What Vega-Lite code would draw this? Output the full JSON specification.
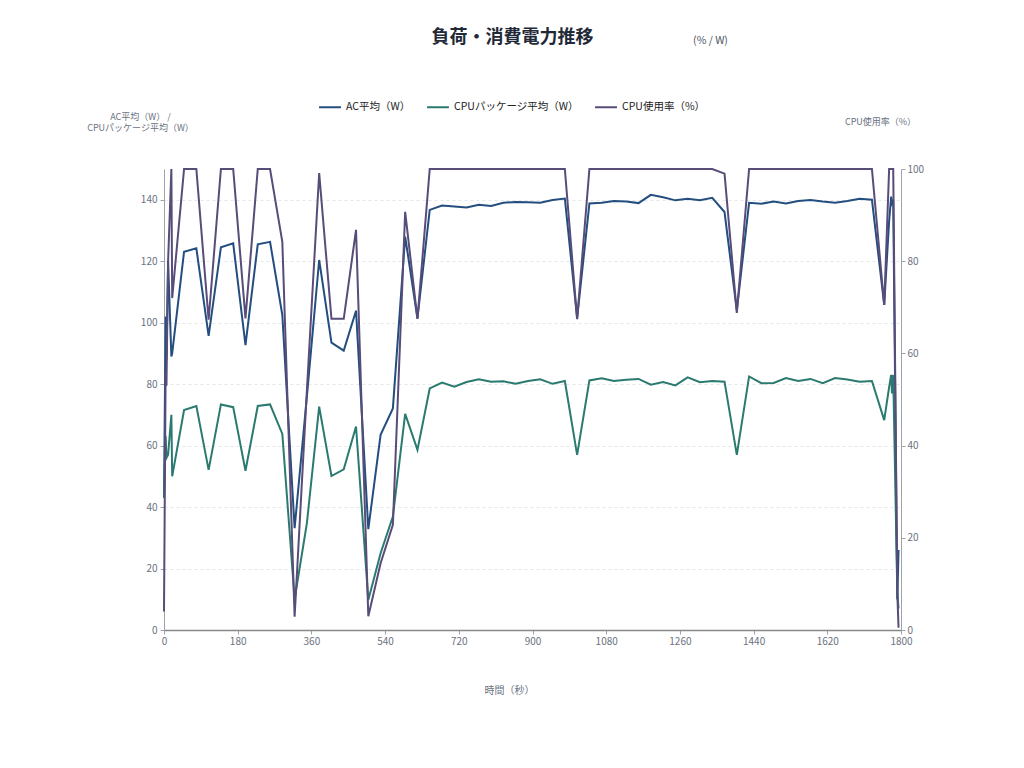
{
  "$schema": "https://vega.github.io/schema/vega-lite/v6.json",
  "autosize": {"type": "none"},
  "width": 737,
  "height": 461,
  "padding": {"left": 164, "top": 169, "right": 123, "bottom": 138},
  "background": "white",
  "config": {
    "font": "Noto Sans CJK JP",
    "view": {"stroke": null},
    "axis": {
      "labelFont": "Noto Sans CJK JP",
      "titleFont": "Noto Sans CJK JP",
      "labelFontSize": 10,
      "labelColor": "#6b7280",
      "titleColor": "#6b7280",
      "titleFontWeight": "normal",
      "domainColor": "#9ca3af",
      "tickColor": "#9ca3af",
      "tickSize": 4,
      "gridColor": "#e5e7eb",
      "gridDash": [3, 3]
    },
    "legend": {
      "orient": "none",
      "legendX": 154,
      "legendY": -74,
      "direction": "horizontal",
      "symbolType": "stroke",
      "symbolSize": 480,
      "symbolStrokeWidth": 2,
      "labelFontSize": 10.5,
      "labelColor": "#222222",
      "labelFont": "Noto Sans CJK JP",
      "columnPadding": 12,
      "labelOffset": 4
    }
  },
  "title": {
    "text": "負荷・消費電力推移",
    "fontSize": 18,
    "fontWeight": "bold",
    "color": "#1f2937",
    "anchor": "middle",
    "frame": "group",
    "dx": -20,
    "offset": -12
  },
  "data": {
    "values": [
      {"t": 0, "ac": 43, "pkg": 43, "cpu": 4},
      {"t": 4, "ac": 102, "pkg": 63, "cpu": 56},
      {"t": 6, "ac": 88, "pkg": 56, "cpu": 53},
      {"t": 10, "ac": 120, "pkg": 57, "cpu": 80},
      {"t": 18, "ac": 89, "pkg": 70, "cpu": 100},
      {"t": 20, "ac": 90, "pkg": 50, "cpu": 72},
      {"t": 49, "ac": 123.1, "pkg": 71.6, "cpu": 100},
      {"t": 79, "ac": 124.2, "pkg": 72.9, "cpu": 100},
      {"t": 109, "ac": 95.7, "pkg": 52.1, "cpu": 67.3},
      {"t": 139, "ac": 124.5, "pkg": 73.4, "cpu": 100},
      {"t": 169, "ac": 125.8, "pkg": 72.5, "cpu": 100},
      {"t": 199, "ac": 92.7, "pkg": 51.8, "cpu": 67.6},
      {"t": 229, "ac": 125.5, "pkg": 72.9, "cpu": 100},
      {"t": 259, "ac": 126.3, "pkg": 73.4, "cpu": 100},
      {"t": 289, "ac": 102.5, "pkg": 63.8, "cpu": 84.2},
      {"t": 319, "ac": 33.1, "pkg": 10, "cpu": 2.9},
      {"t": 349, "ac": 76, "pkg": 34.8, "cpu": 52},
      {"t": 379, "ac": 120.4, "pkg": 72.7, "cpu": 99.1},
      {"t": 409, "ac": 93.5, "pkg": 50.1, "cpu": 67.5},
      {"t": 439, "ac": 90.9, "pkg": 52.3, "cpu": 67.5},
      {"t": 469, "ac": 103.9, "pkg": 66.2, "cpu": 86.8},
      {"t": 499, "ac": 32.8, "pkg": 9.8, "cpu": 3},
      {"t": 529, "ac": 63.5, "pkg": 25, "cpu": 14.5},
      {"t": 559, "ac": 72.1, "pkg": 36.9, "cpu": 22.8},
      {"t": 589, "ac": 128, "pkg": 70.3, "cpu": 90.7},
      {"t": 619, "ac": 101.4, "pkg": 58.6, "cpu": 67.5},
      {"t": 649, "ac": 136.7, "pkg": 78.6, "cpu": 100},
      {"t": 679, "ac": 138.1, "pkg": 80.5, "cpu": 100},
      {"t": 709, "ac": 137.8, "pkg": 79.2, "cpu": 100},
      {"t": 739, "ac": 137.5, "pkg": 80.7, "cpu": 100},
      {"t": 769, "ac": 138.4, "pkg": 81.6, "cpu": 100},
      {"t": 799, "ac": 138, "pkg": 80.8, "cpu": 100},
      {"t": 829, "ac": 139, "pkg": 80.9, "cpu": 100},
      {"t": 859, "ac": 139.3, "pkg": 80.1, "cpu": 100},
      {"t": 889, "ac": 139.2, "pkg": 81, "cpu": 100},
      {"t": 919, "ac": 139, "pkg": 81.6, "cpu": 100},
      {"t": 949, "ac": 139.9, "pkg": 80.1, "cpu": 100},
      {"t": 979, "ac": 140.4, "pkg": 81, "cpu": 100},
      {"t": 1009, "ac": 101.5, "pkg": 57, "cpu": 67.4},
      {"t": 1039, "ac": 138.8, "pkg": 81.2, "cpu": 100},
      {"t": 1069, "ac": 139, "pkg": 81.9, "cpu": 100},
      {"t": 1099, "ac": 139.6, "pkg": 81, "cpu": 100},
      {"t": 1129, "ac": 139.4, "pkg": 81.4, "cpu": 100},
      {"t": 1159, "ac": 138.9, "pkg": 81.7, "cpu": 100},
      {"t": 1189, "ac": 141.6, "pkg": 79.8, "cpu": 100},
      {"t": 1219, "ac": 140.8, "pkg": 80.7, "cpu": 100},
      {"t": 1249, "ac": 139.8, "pkg": 79.6, "cpu": 100},
      {"t": 1279, "ac": 140.3, "pkg": 82.2, "cpu": 100},
      {"t": 1309, "ac": 139.8, "pkg": 80.6, "cpu": 100},
      {"t": 1339, "ac": 140.6, "pkg": 81, "cpu": 100},
      {"t": 1369, "ac": 136, "pkg": 80.8, "cpu": 99},
      {"t": 1399, "ac": 104, "pkg": 57, "cpu": 68.8},
      {"t": 1429, "ac": 139, "pkg": 82.5, "cpu": 100},
      {"t": 1459, "ac": 138.7, "pkg": 80.3, "cpu": 100},
      {"t": 1489, "ac": 139.4, "pkg": 80.4, "cpu": 100},
      {"t": 1519, "ac": 138.8, "pkg": 82, "cpu": 100},
      {"t": 1549, "ac": 139.6, "pkg": 81, "cpu": 100},
      {"t": 1579, "ac": 139.9, "pkg": 81.7, "cpu": 100},
      {"t": 1609, "ac": 139.4, "pkg": 80.3, "cpu": 100},
      {"t": 1639, "ac": 139, "pkg": 82, "cpu": 100},
      {"t": 1669, "ac": 139.6, "pkg": 81.5, "cpu": 100},
      {"t": 1699, "ac": 140.3, "pkg": 80.8, "cpu": 100},
      {"t": 1729, "ac": 140, "pkg": 81, "cpu": 100},
      {"t": 1759, "ac": 105.8, "pkg": 68.3, "cpu": 70.5},
      {"t": 1771, "ac": 133, "pkg": 79, "cpu": 100},
      {"t": 1776, "ac": 141, "pkg": 83, "cpu": 100},
      {"t": 1778, "ac": 139, "pkg": 77, "cpu": 100},
      {"t": 1781, "ac": 140, "pkg": 83, "cpu": 100},
      {"t": 1791, "ac": 10, "pkg": 12, "cpu": 8},
      {"t": 1794, "ac": 26, "pkg": 7, "cpu": 0.5}
    ]
  },
  "encoding": {
    "x": {
      "field": "t",
      "type": "quantitative",
      "scale": {"domain": [0, 1800], "nice": false},
      "axis": {
        "values": [0, 180, 360, 540, 720, 900, 1080, 1260, 1440, 1620, 1800],
        "format": "d",
        "labelFlush": false,
        "grid": false,
        "domainColor": "#888888",
        "domainWidth": 1.5,
        "title": "時間（秒）",
        "titleFontSize": 10,
        "titleX": 345,
        "titleY": 65,
        "titleBaseline": "bottom",
        "titleAlign": "center"
      }
    }
  },
  "layer": [
    {
      "layer": [
        {
          "mark": {"type": "line", "strokeWidth": 2},
          "encoding": {
            "y": {
              "field": "ac",
              "type": "quantitative",
              "scale": {"domain": [0, 150], "nice": false},
              "axis": {
                "values": [0, 20, 40, 60, 80, 100, 120, 140],
                "grid": true,
                "labelPadding": 3,
                "title": ["AC平均（W） /", "CPUパッケージ平均（W）"],
                "titleFontSize": 9,
                "titleAngle": 0,
                "titleAlign": "center",
                "titleBaseline": "bottom",
                "titleX": -24,
                "titleY": -48
              }
            },
            "color": {
              "datum": "AC平均（W）",
              "type": "nominal",
              "scale": {
                "domain": ["AC平均（W）", "CPUパッケージ平均（W）", "CPU使用率（%）"],
                "range": ["#234e7f", "#2b7a70", "#584c79"]
              },
              "legend": {"title": null}
            }
          }
        },
        {
          "mark": {"type": "line", "strokeWidth": 2},
          "encoding": {
            "y": {
              "field": "pkg",
              "type": "quantitative",
              "scale": {"domain": [0, 150], "nice": false},
              "axis": {
                "values": [0, 20, 40, 60, 80, 100, 120, 140],
                "grid": true,
                "labelPadding": 3,
                "title": ["AC平均（W） /", "CPUパッケージ平均（W）"],
                "titleFontSize": 9,
                "titleAngle": 0,
                "titleAlign": "center",
                "titleBaseline": "bottom",
                "titleX": -24,
                "titleY": -48
              }
            },
            "color": {
              "datum": "CPUパッケージ平均（W）",
              "type": "nominal",
              "scale": {
                "domain": ["AC平均（W）", "CPUパッケージ平均（W）", "CPU使用率（%）"],
                "range": ["#234e7f", "#2b7a70", "#584c79"]
              },
              "legend": {"title": null}
            }
          }
        }
      ]
    },
    {
      "mark": {"type": "line", "strokeWidth": 2},
      "encoding": {
        "x": {
          "field": "t",
          "type": "quantitative",
          "scale": {"domain": [0, 1800], "nice": false},
          "axis": {
            "orient": "top",
            "labels": false,
            "ticks": false,
            "domain": false,
            "grid": false,
            "title": "(% / W)",
            "titleFontSize": 10.5,
            "titleColor": "#4b5563",
            "titleX": 546,
            "titleY": -124,
            "titleAlign": "center",
            "titleBaseline": "bottom"
          }
        },
        "y": {
          "field": "cpu",
          "type": "quantitative",
          "scale": {"domain": [0, 100], "nice": false},
          "axis": {
            "orient": "right",
            "values": [0, 20, 40, 60, 80, 100],
            "grid": false,
            "labelPadding": 2,
            "title": "CPU使用率（%）",
            "titleFontSize": 9,
            "titleAngle": 0,
            "titleAlign": "center",
            "titleBaseline": "bottom",
            "titleX": -21,
            "titleY": -43
          }
        },
        "color": {
          "datum": "CPU使用率（%）",
          "type": "nominal",
          "scale": {
            "domain": ["AC平均（W）", "CPUパッケージ平均（W）", "CPU使用率（%）"],
            "range": ["#234e7f", "#2b7a70", "#584c79"]
          },
          "legend": {"title": null}
        }
      }
    }
  ],
  "resolve": {"scale": {"y": "independent"}, "axis": {"x": "independent"}}
}
